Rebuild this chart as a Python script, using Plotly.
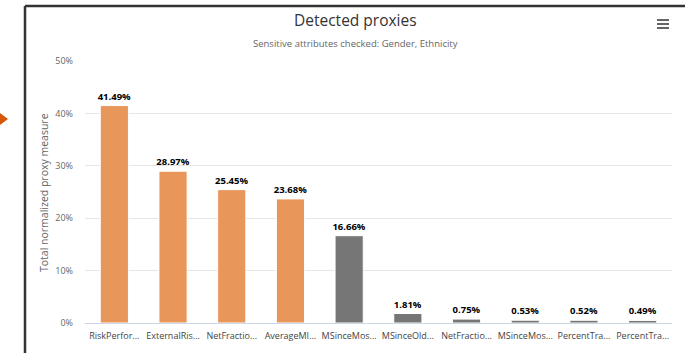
import plotly.graph_objects as go

categories = ["RiskPerfor...", "ExternalRis...", "NetFractio...", "AverageMI...", "MSinceMos...",
              "MSinceOld...", "NetFractio...", "MSinceMos...", "PercentTra...", "PercentTra..."]
values = [41.49, 28.97, 25.45, 23.68, 16.66, 1.81, 0.75, 0.53, 0.52, 0.49]
flagged = [True, True, True, True, False, False, False, False, False, False]
yticks = [0, 10, 20, 30, 40, 50]

ORANGE = "#E8965A"
GREY = "#767676"
FONT = "Open Sans"

W, H = 685, 353
L, R, T, B = 85, 13, 61, 30
pw, ph = W - L - R, H - T - B

def px(x):
    return (x - L) / pw

def py(y):
    return (H - B - y) / ph

xs = list(range(len(categories)))
fig = go.Figure()
fig.add_trace(go.Bar(
    x=xs, y=values, width=0.48,
    marker=dict(color=[ORANGE if f else GREY for f in flagged], line=dict(color="white", width=1)),
    text=[f"{v:.2f}%" for v in values], textposition="outside", cliponaxis=False,
    constraintext="none",
    textfont=dict(family=FONT, size=9.5, color="#000000", weight="bold"),
    hoverinfo="skip",
))

shapes = [
    # container border (top + left)
    dict(type="line", xref="paper", yref="paper", x0=px(25), x1=px(690), y0=py(6), y1=py(6),
         line=dict(color="#333333", width=2.5)),
    dict(type="line", xref="paper", yref="paper", x0=px(25), x1=px(25), y0=py(6), y1=py(360),
         line=dict(color="#333333", width=2.5)),
    # orange pointer arrow
    dict(type="path", xref="paper", yref="paper",
         path=f"M {px(0)} {py(113)} L {px(8)} {py(119)} L {px(0)} {py(125)} Z",
         fillcolor="#D4580A", line=dict(width=0)),
]
for yy in (20, 24, 28):
    shapes.append(dict(type="line", xref="paper", yref="paper", x0=px(657), x1=px(669),
                       y0=py(yy), y1=py(yy), line=dict(color="#666666", width=2)))

annotations = [
    dict(text="Detected proxies", xref="paper", yref="paper", x=px(355), y=py(20),
         xanchor="center", yanchor="middle", showarrow=False,
         font=dict(family=FONT, size=15.5, color="#333333")),
    dict(text="Sensitive attributes checked: Gender, Ethnicity", xref="paper", yref="paper",
         x=px(355), y=py(43), xanchor="center", yanchor="middle", showarrow=False,
         font=dict(family=FONT, size=9.5, color="#666666")),
    dict(text="Total normalized proxy measure", xref="paper", yref="paper",
         x=px(44), y=py(193), xanchor="center", yanchor="middle", showarrow=False, textangle=-90,
         font=dict(family=FONT, size=10.5, color="#666666")),
]

fig.update_layout(
    width=W, height=H, margin=dict(l=L, r=R, t=T, b=B),
    paper_bgcolor="white", plot_bgcolor="white",
    showlegend=False, shapes=shapes, annotations=annotations,
    xaxis=dict(tickmode="array", tickvals=xs, ticktext=categories, range=[-0.5, len(xs) - 0.5],
               showgrid=False, showline=True, linecolor="#ccd6eb", linewidth=1, ticks="",
               tickfont=dict(family=FONT, size=9, color="#444444"), ticklabelstandoff=4,
               fixedrange=True),
    yaxis=dict(range=[0, 50], tickvals=yticks, ticktext=[f"{t}%" for t in yticks],
               showgrid=True, gridcolor="#e6e6e6", gridwidth=1, zeroline=False,
               tickfont=dict(family=FONT, size=9, color="#666666"), ticks="", ticklabelstandoff=11,
               fixedrange=True),
)

fig.write_html("out.html", config={"displayModeBar": False})
